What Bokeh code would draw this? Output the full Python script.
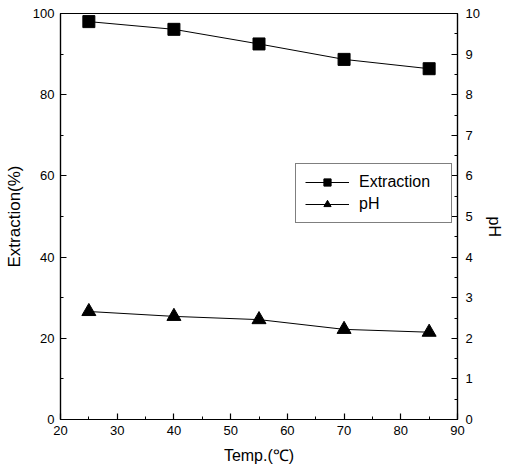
import math
from bokeh.plotting import figure
from bokeh.models import Range1d, LinearAxis, SingleIntervalTicker, Legend, LegendItem
from bokeh.embed import file_html
from bokeh.resources import INLINE

temps = [25, 40, 55, 70, 85]
extraction = [98.0, 96.1, 92.5, 88.7, 86.4]
ph = [2.66, 2.54, 2.46, 2.22, 2.15]

FONT = "Liberation Sans"

p = figure(width=515, height=468, output_backend="svg", toolbar_location=None,
           x_range=Range1d(20, 90), y_range=Range1d(0, 100),
           min_border_left=60, min_border_right=58, min_border_top=13, min_border_bottom=49)
p.extra_y_ranges = {"ph": Range1d(0, 10)}
p.grid.visible = False
p.outline_line_color = "black"
p.outline_line_width = 1.2
p.background_fill_color = "white"
p.border_fill_color = "white"

def style(ax, interval, label, standoff, lsize="16px", tstandoff=6):
    ax.ticker = SingleIntervalTicker(interval=interval, num_minor_ticks=2)
    ax.major_tick_in = 6
    ax.major_tick_out = 0
    ax.minor_tick_in = 3
    ax.minor_tick_out = 0
    ax.axis_line_color = "black"
    ax.axis_line_width = 1.2
    ax.major_tick_line_color = "black"
    ax.minor_tick_line_color = "black"
    ax.major_tick_line_width = 1.2
    ax.major_label_text_font = FONT
    ax.major_label_text_font_size = "13px"
    ax.major_label_text_color = "black"
    ax.major_label_standoff = tstandoff
    ax.axis_label = label
    ax.axis_label_text_font = FONT
    ax.axis_label_text_font_size = lsize
    ax.axis_label_text_font_style = "normal"
    ax.axis_label_text_color = "black"
    ax.axis_label_standoff = standoff

style(p.xaxis[0], 10, "Temp.(℃)", 9)
style(p.yaxis[0], 20, "Extraction(%)", 6, lsize="17px")
right = LinearAxis(y_range_name="ph")
style(right, 1, "pH", 12, tstandoff=8)
if "axis_label_orientation" in right.properties():
    right.axis_label_orientation = -math.pi / 2
p.add_layout(right, "right")

l1 = p.line(temps, extraction, line_color="black", line_width=1)
s1 = p.scatter(temps, extraction, marker="square", size=12, fill_color="black", line_color="black")
l2 = p.line(temps, ph, y_range_name="ph", line_color="black", line_width=1)
s2 = p.scatter(temps, ph, y_range_name="ph", marker="triangle", size=14, fill_color="black", line_color="black")

legend = Legend(items=[LegendItem(label="Extraction", renderers=[l1, s1]),
                       LegendItem(label="pH", renderers=[l2, s2])],
                location=(235, 196))
legend.border_line_color = "black"
legend.border_line_width = 1.4
legend.padding = 9
legend.spacing = 4
legend.glyph_width = 44
legend.glyph_height = 18
legend.label_height = 18
legend.label_width = 83
legend.label_standoff = 10
legend.label_text_font = FONT
legend.label_text_font_size = "16px"
legend.label_text_color = "black"
legend.background_fill_alpha = 1
p.add_layout(legend, "center")

open("out.html", "w").write(file_html(p, INLINE))
